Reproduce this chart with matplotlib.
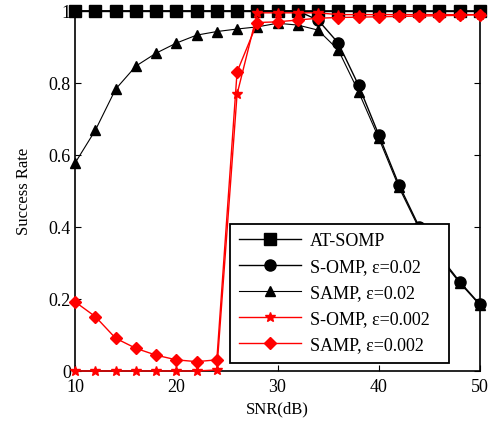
import matplotlib
matplotlib.use("Agg")
import matplotlib.pyplot as plt

plt.rcParams["font.family"] = ["Liberation Serif", "DejaVu Serif"]

snr = list(range(10, 51, 2))

at_somp = [1.0] * 21
somp_002 = [1.0, 1.0, 1.0, 1.0, 1.0, 1.0, 1.0, 1.0, 1.0, 1.0, 1.0, 1.0,
            0.975, 0.911, 0.794, 0.656, 0.517, 0.40, 0.32, 0.248, 0.185]
samp_002 = [0.578, 0.669, 0.783, 0.847, 0.883, 0.911, 0.933, 0.943, 0.95, 0.956,
            0.966, 0.961, 0.947, 0.892, 0.776, 0.647, 0.51, 0.395, 0.315, 0.245, 0.183]
somp_0002 = [0.0, 0.0, 0.0, 0.0, 0.0, 0.0, 0.0, 0.003, 0.769, 0.995, 0.995,
             0.995, 0.995, 0.99, 0.99, 0.99, 0.99, 0.99, 0.99, 0.99, 0.99]
samp_0002 = [0.192, 0.151, 0.091, 0.063, 0.044, 0.031, 0.026, 0.031, 0.831, 0.968,
             0.97, 0.975, 0.98, 0.982, 0.983, 0.984, 0.985, 0.986, 0.987, 0.988, 0.99]

labels = ["AT-SOMP", "S-OMP, \u03b5=0.02", "SAMP, \u03b5=0.02",
          "S-OMP, \u03b5=0.002", "SAMP, \u03b5=0.002"]

fig = plt.figure(figsize=(5.01, 4.24), dpi=100)
ax = fig.add_axes([0.15, 0.125, 0.808, 0.849])

ax.plot(snr, at_somp, "k-s", lw=1.0, ms=8, label=labels[0], clip_on=False, zorder=3)
ax.plot(snr, somp_002, "k-o", lw=1.0, ms=8, label=labels[1], clip_on=False, zorder=3)
ax.plot(snr, samp_002, "k-^", lw=0.8, ms=7, label=labels[2], clip_on=False, zorder=3)
ax.plot(snr, somp_0002, "-*", color="red", lw=1.0, ms=7, label=labels[3], clip_on=False, zorder=4)
ax.plot(snr, samp_0002, "-D", color="red", lw=1.0, ms=6, label=labels[4], clip_on=False, zorder=4)

ax.set_xlim(10, 50)
ax.set_ylim(0, 1)
ax.set_xticks([10, 20, 30, 40, 50])
ax.set_yticks([0, 0.2, 0.4, 0.6, 0.8, 1])
ax.set_yticklabels(["0", "0.2", "0.4", "0.6", "0.8", "1"])
ax.tick_params(direction="in", top=True, right=True, labelsize=13, length=4)
ax.tick_params(axis="x", pad=6)
ax.tick_params(axis="y", pad=3)
for s in ax.spines.values():
    s.set_linewidth(1.2)
ax.set_xlabel("SNR(dB)", fontsize=12, labelpad=4)
ax.set_ylabel("Success Rate", fontsize=12, labelpad=12)

leg = ax.legend(loc="lower left", bbox_to_anchor=(0.383, 0.023, 0.54, 0.389),
                mode="expand", fontsize=13, fancybox=False, framealpha=1,
                edgecolor="black", handlelength=3.4, handletextpad=0.5,
                borderaxespad=0, labelspacing=0.5, borderpad=0.5)
leg.get_frame().set_linewidth(1.3)
leg.set_zorder(10)

fig.savefig("out.png", dpi=100)
